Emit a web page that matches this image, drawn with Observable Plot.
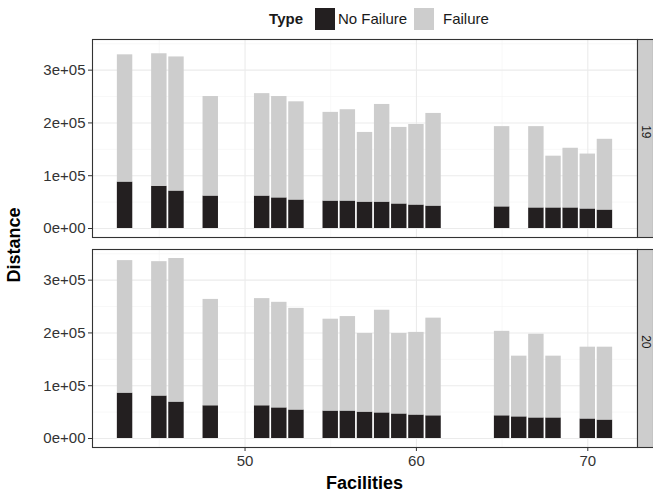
<!DOCTYPE html>
<html>
<head>
<meta charset="utf-8">
<script src="https://cdn.jsdelivr.net/npm/d3@7"></script>
<script src="https://cdn.jsdelivr.net/npm/@observablehq/plot@0.6"></script>
<style>
  body { margin: 0; background: #fff; font-family: "Liberation Sans", Arial, sans-serif; }
  #wrap { position: relative; width: 653px; height: 495px; }
  #legend { position: absolute; top: 0; left: 0; width: 653px; height: 30px; }
  #legend span { position: absolute; font-size: 15px; color: #1a1a1a; line-height: 1; }
  #legend .sw { width: 20px; height: 22px; }
  #chart { position: absolute; top: 30px; left: 0; }
  .title { position: absolute; font-weight: bold; font-size: 18px; color: #000; white-space: nowrap; }
</style>
</head>
<body>
<div id="wrap">
  <div id="legend">
    <span style="right:350px;top:11px;font-weight:bold;">Type</span>
    <span class="sw" style="left:315px;top:8px;background:#231f20;"></span>
    <span style="left:338px;top:11px;">No Failure</span>
    <span class="sw" style="left:414px;top:8px;background:#cdcdcd;"></span>
    <span style="left:443px;top:11px;">Failure</span>
  </div>
  <div id="chart"></div>
  <div class="title" style="left:364.5px;top:473px;transform:translateX(-50%);">Facilities</div>
  <div class="title" style="left:14px;top:245px;transform:translate(-50%,-50%) rotate(-90deg);">Distance</div>
</div>
<script>
// Panel "19"
const facilities19 = [43, 45, 46, 48, 51, 52, 53, 55, 56, 57, 58, 59, 60, 61, 65, 67, 68, 69, 70, 71];
const noFailure19 = [88000, 80000, 71000, 61500, 61500, 58000, 54000, 52000, 52000, 50000, 50000, 46500, 44500, 42500, 41000, 39000, 39000, 39000, 37000, 35000];
const failure19   = [241000, 251000, 254000, 188500, 194000, 192000, 186000, 168000, 173000, 132000, 185000, 145000, 152500, 175500, 152000, 154000, 98000, 113000, 104000, 134000];

// Panel "20"
const facilities20 = [43, 45, 46, 48, 51, 52, 53, 55, 56, 57, 58, 59, 60, 61, 65, 66, 67, 68, 70, 71];
const noFailure20 = [86000, 80500, 69000, 62000, 62000, 58000, 54000, 52000, 52000, 50000, 48500, 46500, 44500, 43000, 43000, 41000, 39000, 39000, 37000, 35000];
const failure20   = [251000, 254500, 272000, 201500, 203000, 200000, 192500, 174000, 179000, 149000, 194500, 152500, 156500, 185000, 160000, 115000, 158500, 117000, 136000, 138000];

const panels = ["19", "20"];
const types = ["No Failure", "Failure"];
const typeColors = ["#231f20", "#cdcdcd"];

const xTicks = [50, 60, 70];
const xMinorTicks = [45, 55, 65];
const yTicks = [0, 100000, 200000, 300000];
const yTickLabels = ["0e+00", "1e+05", "2e+05", "3e+05"];
const yMinorTicks = [50000, 150000, 250000, 350000];

// Stack "No Failure" under "Failure" for each facility
function stackRows(panel, xs, noFail, fail) {
  const out = [];
  xs.forEach((x, i) => {
    out.push({panel, x, type: types[0], y1: 0, y2: noFail[i]});
    out.push({panel, x, type: types[1], y1: noFail[i], y2: noFail[i] + fail[i]});
  });
  return out;
}
const rows = [
  ...stackRows(panels[0], facilities19, noFailure19, failure19),
  ...stackRows(panels[1], facilities20, noFailure20, failure20)
];

const W = 653, H = 465;
const mLeft = 92, mRight = 16, stripW = 16;
const panelW = W - mLeft - mRight;

const chart = Plot.plot({
  width: W,
  height: H,
  marginTop: 8,
  marginBottom: 47,
  marginLeft: mLeft,
  marginRight: mRight,
  style: {fontFamily: "Liberation Sans, Arial, sans-serif", fontSize: "15px", color: "#333", background: "#fff"},
  facet: {data: rows, y: "panel", label: null},
  fy: {domain: panels, axis: null, paddingInner: 0.055, paddingOuter: 0},
  x: {domain: [41.1, 72.9], ticks: xTicks, tickSize: 4, tickPadding: 4, label: null},
  y: {domain: [-17050, 358050], ticks: yTicks, tickSize: 4, tickPadding: 3,
      tickFormat: d => yTickLabels[yTicks.indexOf(d)], label: null},
  color: {domain: types, range: typeColors},
  marks: [
    Plot.ruleX(xMinorTicks, {stroke: "#f3f3f3", strokeWidth: 0.6}),
    Plot.ruleY(yMinorTicks, {stroke: "#f3f3f3", strokeWidth: 0.6}),
    Plot.ruleX(xTicks, {stroke: "#ebebeb", strokeWidth: 1.1}),
    Plot.ruleY(yTicks, {stroke: "#ebebeb", strokeWidth: 1.1}),
    Plot.rect(rows, {x1: d => d.x - 0.45, x2: d => d.x + 0.45, y1: "y1", y2: "y2", fill: "type"}),
    Plot.frame({stroke: "#333", strokeWidth: 1.1}),
    Plot.frame({fill: "#cdcdcd", stroke: "#333", strokeWidth: 1.1, insetLeft: panelW, insetRight: -stripW}),
    Plot.text(rows, Plot.selectFirst({text: "panel", frameAnchor: "right", dx: stripW / 2, rotate: 90,
      fill: "#1a1a1a", fontSize: 12}))
  ]
});
document.getElementById("chart").appendChild(chart);
</script>
</body>
</html>
